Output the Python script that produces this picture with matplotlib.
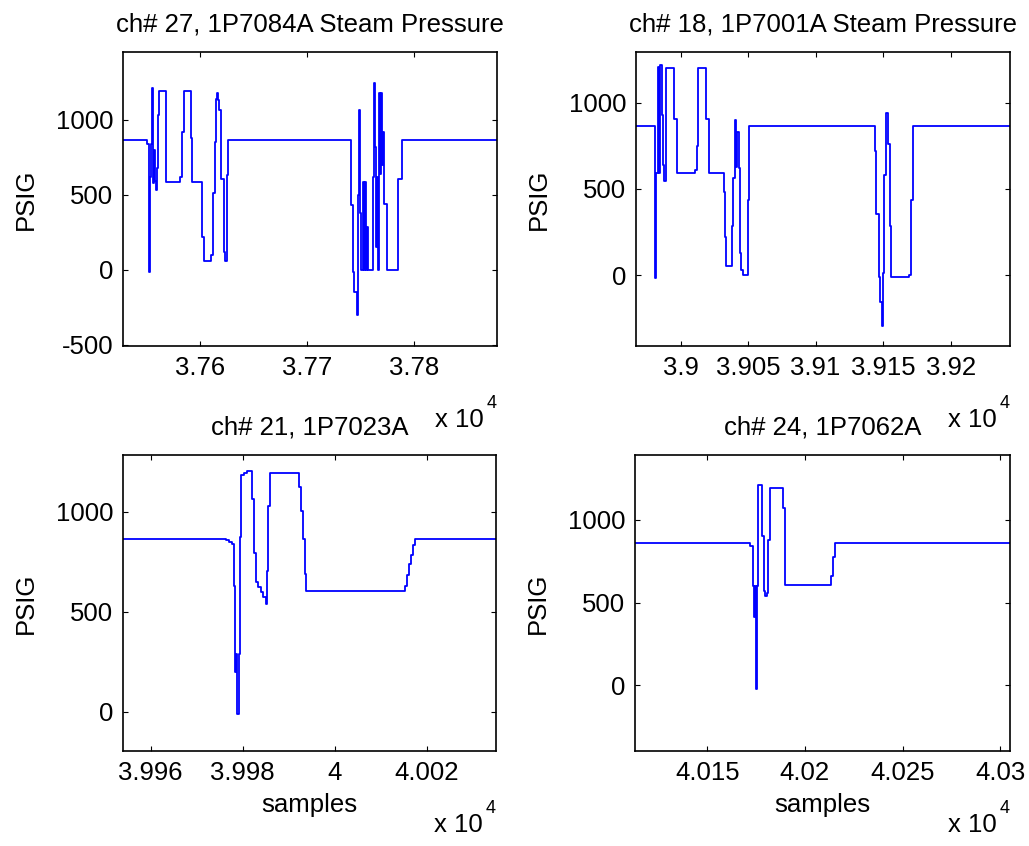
import matplotlib
matplotlib.use("Agg")
import matplotlib.pyplot as plt
from matplotlib.ticker import FixedLocator, FuncFormatter

plt.rcParams['font.family'] = ['Liberation Sans', 'DejaVu Sans']
plt.rcParams['axes.unicode_minus'] = False

# ---- data: sample index where the reading changes, and the new reading (PSIG)
titles = [
    "ch# 27, 1P7084A Steam Pressure",
    "ch# 18, 1P7001A Steam Pressure",
    "ch# 21, 1P7023A",
    "ch# 24, 1P7062A",
]

ch27_samples = [37528, 37550, 37552, 37553, 37554, 37555, 37556, 37557, 37558, 37559,
                37560, 37561, 37562, 37568, 37581, 37583, 37585, 37591, 37592, 37602,
                37604, 37610, 37612, 37614, 37615, 37616, 37617, 37618, 37619, 37622,
                37623, 37625, 37626, 37741, 37743, 37744, 37746, 37747, 37748, 37749,
                37750, 37752, 37753, 37754, 37755, 37756, 37757, 37761, 37762, 37763,
                37764, 37765, 37766, 37767, 37768, 37769, 37770, 37771, 37772, 37774,
                37785, 37788, 37877]
ch27_psig = [862, 840, -15, 620, 840, 1210, 580, 800, 590, 530,
             680, 1030, 1190, 585, 615, 915, 1190, 875, 585, 215,
             55, 100, 510, 850, 1135, 1175, 1130, 1065, 605, 120,
             55, 630, 862, 430, -15, -150, -300, 495, 1065, 375,
             -5, 585, -5, 585, -5, 285, -5, 620, 1245, 820,
             150, 620, -5, 1180, 640, 1180, 700, 920, 440, -5,
             605, 862, 862]

ch18_samples = [38967, 38981, 38982, 38983, 38984, 38985, 38986, 38987, 38988, 38989,
                38995, 38997, 39011, 39012, 39013, 39019, 39021, 39032, 39033, 39034,
                39038, 39039, 39040, 39041, 39042, 39043, 39044, 39045, 39046, 39050,
                39051, 39144, 39145, 39147, 39148, 39149, 39150, 39151, 39152, 39154,
                39155, 39156, 39169, 39171, 39172, 39244]
ch18_psig = [865, -15, 590, 1210, 590, 1220, 930, 640, 545, 1205,
             905, 592, 610, 750, 1205, 905, 592, 480, 220, 52,
             285, 563, 903, 627, 830, 620, 126, 29, -2, 433,
             865, 718, 355, -14, -155, -297, 10, 582, 941, 763,
             285, -14, -2, 433, 865, 865]

ch21_samples = [39954, 39976.3, 39977.0, 39977.6, 39978.0, 39978.1, 39978.4, 39978.6,
                39978.8, 39979.1, 39979.4, 39979.7, 39980.2, 39981.0, 39982.1, 39982.4,
                39982.8, 39983.3, 39983.9, 39984.5, 39985.0, 39985.2, 39985.5, 39986.0,
                39992.2, 39992.7, 39993.0, 39993.5, 39993.8, 40015.2, 40015.7, 40016.1,
                40016.5, 40017.0, 40017.5, 40035]
ch21_psig = [863, 858, 850, 838, 828, 628, 200, 292,
             -12, 292, 875, 1183, 1195, 1203, 1062, 792,
             650, 625, 600, 572, 542, 705, 1030, 1192,
             1125, 1005, 862, 688, 603, 628, 683, 738,
             783, 833, 863, 863]

ch24_samples = [40113, 40172, 40173.5, 40174, 40174.5, 40175, 40175.5, 40176, 40178,
                40179, 40179.6, 40180.4, 40181, 40182, 40188.6, 40189.8, 40213.4,
                40214.3, 40215.6, 40305]
ch24_psig = [859, 845, 600, 414, 600, -20, 600, 1212, 903,
             571, 539, 555, 879, 1192, 1074, 606, 661,
             777, 859, 859]

x_limits = [(37528, 37877), (38967, 39244), (39954, 40035), (40113, 40305)]
y_limits = [(-510, 1450), (-412, 1295), (-195, 1284), (-397, 1392)]
x_ticks = [[37600, 37700, 37800],
           [39000, 39050, 39100, 39150, 39200],
           [39960, 39980, 40000, 40020],
           [40150, 40200, 40250, 40300]]
y_ticks = [[-500, 0, 500, 1000], [0, 500, 1000], [0, 500, 1000], [0, 500, 1000]]

series = [(ch27_samples, ch27_psig), (ch18_samples, ch18_psig),
          (ch21_samples, ch21_psig), (ch24_samples, ch24_psig)]

# ---- layout (pixel boxes of the four axes: left, top, right, bottom)
W, H = 1029, 846
boxes = [(123, 52, 497, 346), (636, 52, 1010, 346),
         (123, 455, 496, 751), (635, 455, 1010, 751)]

FS = 18.5
fig = plt.figure(figsize=(W / 100, H / 100), dpi=100)

for i, (box, (t, v)) in enumerate(zip(boxes, series)):
    l, tp, r, b = box
    ax = fig.add_axes([l / W, 1 - b / H, (r - l) / W, (b - tp) / H])
    ax.plot(t, v, drawstyle='steps-post', color='#0000ff', lw=1.3)
    ax.set_xlim(*x_limits[i])
    ax.set_ylim(*y_limits[i])
    ax.xaxis.set_major_locator(FixedLocator(x_ticks[i]))
    ax.yaxis.set_major_locator(FixedLocator(y_ticks[i]))
    ax.xaxis.set_major_formatter(FuncFormatter(lambda x, p: f"{x / 1e4:g}"))
    ax.yaxis.set_major_formatter(FuncFormatter(lambda y, p: f"{y:g}"))
    ax.tick_params(direction='in', length=3.5, width=0.8, top=True, right=True,
                   labelsize=FS, pad=7, colors='black')
    for s in ax.spines.values():
        s.set_linewidth(1.2)
        s.set_color('black')
    ax.set_title(titles[i], fontsize=FS, pad=15)
    ax.set_ylabel("PSIG", fontsize=FS, labelpad=13)
    if i >= 2:
        ax.set_xlabel("samples", fontsize=FS, labelpad=6)
    # exponent note under the x axis
    ax.annotate("x 10", xy=(1, 0), xycoords='axes fraction', xytext=(-13, -81),
                textcoords='offset pixels', ha='right', va='baseline', fontsize=FS)
    ax.annotate("4", xy=(1, 0), xycoords='axes fraction', xytext=(0, -62),
                textcoords='offset pixels', ha='right', va='baseline', fontsize=13)

fig.savefig("out.png", dpi=100, facecolor='white')
